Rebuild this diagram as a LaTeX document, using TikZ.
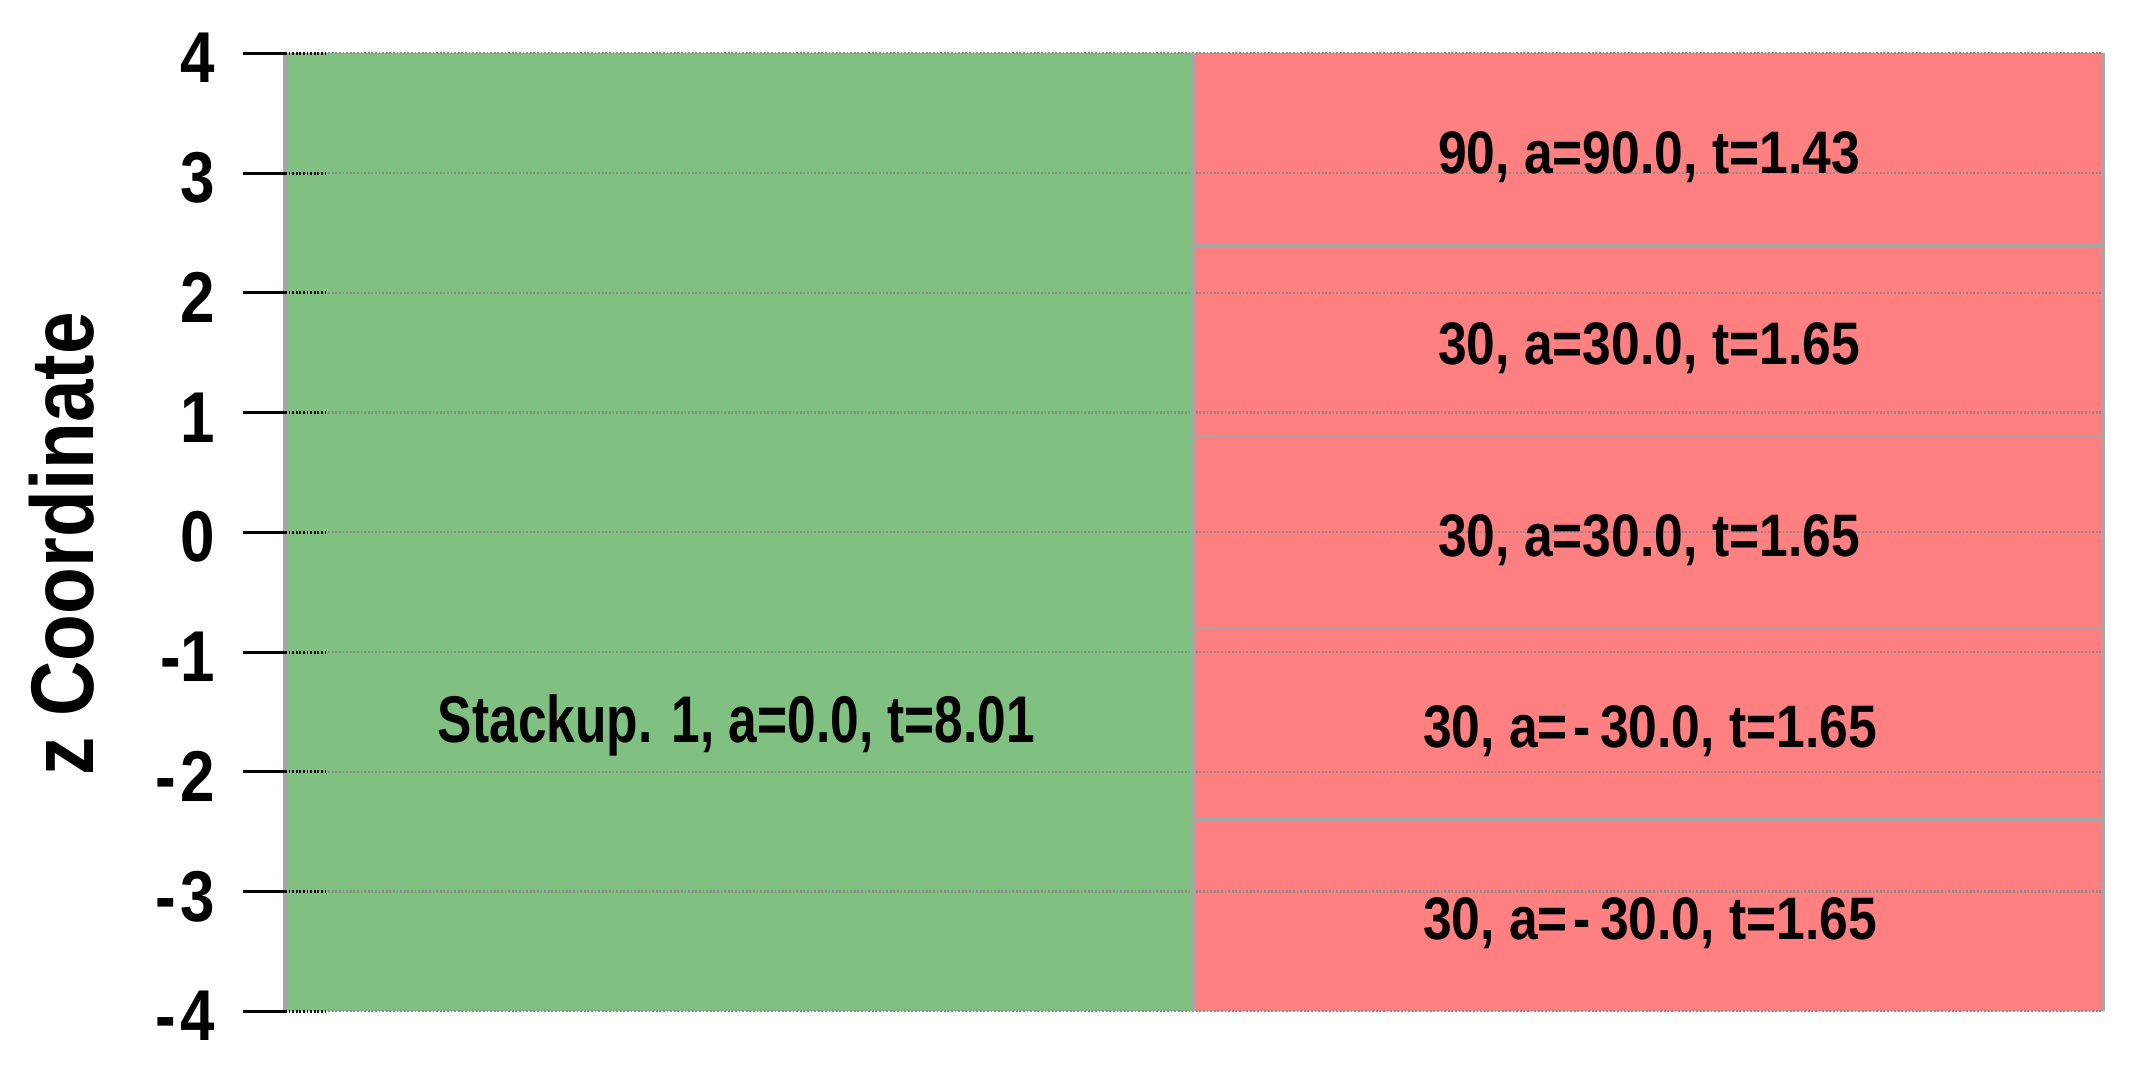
\documentclass[tikz,border=0pt]{standalone}
\usepackage{fontspec}
\newfontfamily\fA[FakeStretch=0.86]{Liberation Sans}
\newfontfamily\fB[FakeStretch=0.78]{Liberation Sans}
\definecolor{lgreen}{RGB}{128,192,128}
\definecolor{lred}{RGB}{255,128,128}
\definecolor{bordgray}{RGB}{166,166,166}
\definecolor{gridgray}{RGB}{140,140,140}
\tikzset{
  gridline/.style={gridgray, line width=1.1pt, dash pattern=on 0.9pt off 0.9pt},
  frameline/.style={bordgray, line width=1.6pt},
  tickout/.style={black, line width=1.5pt},
  tickin/.style={black, line width=1.5pt, dash pattern=on 0.9pt off 0.9pt},
  ticklbl/.style={inner sep=0pt, anchor=base east, font=\fA\bfseries\fontsize{36pt}{40pt}\selectfont},
  layerlbl/.style={inner sep=0pt, anchor=base, font=\fA\bfseries\fontsize{30pt}{34pt}\selectfont},
  stacklbl/.style={inner sep=0pt, anchor=base, font=\fB\bfseries\fontsize{33pt}{36pt}\selectfont},
  titlelbl/.style={inner sep=0pt, anchor=base, rotate=90, font=\fA\bfseries\fontsize{44.5pt}{50pt}\selectfont},
  greenbox/.style={fill=lgreen, draw=none},
  redbox/.style={fill=lred, draw=none}
}
\begin{document}
\begin{tikzpicture}[x=0.5pt, y=-0.5pt]
\useasboundingbox (0,0) rectangle (2140,1072);
% fills
\fill[white] (0,0) rectangle (2140,1072);
\fill[greenbox] (285,53.3) rectangle (1194,1011.3);
\fill[redbox] (1194,53.3) rectangle (2103,1011.3);
% grid lines
\foreach \j in {0,...,8}{
  \draw[gridline] (285,53.3+\j*119.75) -- (2103,53.3+\j*119.75);
}
% layer boundaries
\foreach \k in {1,...,4}{
  \draw[frameline] (1194,53.3+\k*191.6) -- (2103,53.3+\k*191.6);
}
% vertical borders
\draw[frameline] (285,53.3) -- (285,1011.3);
\draw[frameline] (1194,53.3) -- (1194,1011.3);
\draw[frameline] (2103,53.3) -- (2103,1011.3);
% ticks and labels
\foreach \v [count=\j from 0] in {4,3,2,1,0,-1,-2,-3,-4}{
  \coordinate (to\j) at (243,53.3+\j*119.75);
  \coordinate (tm\j) at (285,53.3+\j*119.75);
  \coordinate (ti\j) at (327,53.3+\j*119.75);
  \draw[tickout] (to\j) -- (tm\j);
  \draw[tickin] (tm\j) -- (ti\j);
}
\node[ticklbl] (y4) at (215.5,82.8) {4};
\node[ticklbl] (y3) at (215.5,202.55) {3};
\node[ticklbl] (y2) at (215.5,322.3) {2};
\node[ticklbl] (y1) at (215.5,442.05) {1};
\node[ticklbl] (y0) at (215.5,561.8) {0};
\node[ticklbl] (ym1) at (215.5,681.55) {-1};
\node[ticklbl] (ym2) at (215.5,801.3) {-\kern2.5pt2};
\node[ticklbl] (ym3) at (215.5,921.05) {-\kern2.5pt3};
\node[ticklbl] (ym4) at (215.5,1040.8) {-\kern2.5pt4};
% axis title
\node[titlelbl] (title) at (93,544) {z Coordinate};
% layer labels
\node[layerlbl] (l1) at (1649,173) {90, a=90.0, t=1.43};
\node[layerlbl] (l2) at (1649,364.5) {30, a=30.0, t=1.65};
\node[layerlbl] (l3) at (1649,556) {30, a=30.0, t=1.65};
\node[layerlbl] (l4) at (1650,747.5) {30, a=\kern3pt-\kern4.5pt30.0, t=1.65};
\node[layerlbl] (l5) at (1650,939) {30, a=\kern3pt-\kern4.5pt30.0, t=1.65};
\node[stacklbl] (st) at (736.5,742) {Stackup. 1, a=0.0, t=8.01};
\end{tikzpicture}
\end{document}
